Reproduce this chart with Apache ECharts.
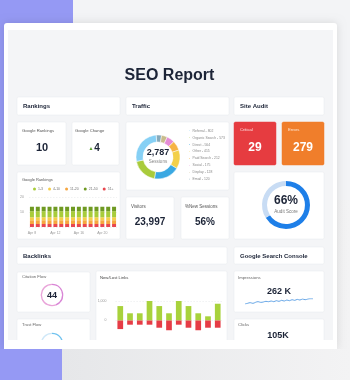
<!DOCTYPE html>
<html>
<head>
<meta charset="utf-8">
<script src="https://cdn.jsdelivr.net/npm/echarts@6/dist/echarts.min.js"></script>
<style>
  html, body { margin: 0; padding: 0; background: #f1f2f4; }
  #chart { width: 350px; height: 380px; }
</style>
</head>
<body>
<div id="chart"></div>
<script>
  // Google Rankings stacked bars (per day)
  const rankDays = ['Apr 8', 'Apr 9', 'Apr 10', 'Apr 11', 'Apr 12', 'Apr 13', 'Apr 14', 'Apr 15',
    'Apr 16', 'Apr 17', 'Apr 18', 'Apr 19', 'Apr 20', 'Apr 21', 'Apr 22']
  const rank51 = [2, 2, 2, 2, 2, 2, 2, 2, 2, 2, 2, 2, 2, 2, 2]
  const rank11to20 = [2.5, 2.5, 2.5, 2.5, 2.5, 2.5, 2.5, 2.5, 2.5, 2.5, 2.5, 2.5, 2.5, 2.5, 2.5]
  const rank4to10 = [2, 2, 2, 2, 2, 2, 2, 2, 2, 2, 2, 2, 2, 2, 2]
  const rank1to3 = [4, 4, 4, 4, 4, 4, 4, 4, 4, 4, 4, 4, 4, 4, 4]
  const rank21to50 = [3, 3, 3, 3, 3, 3, 3, 3, 3, 3, 3, 3, 3, 3, 3]

  // Traffic sources
  const trafficNames = ['Referral', 'Organic Search', 'Direct', 'Other', 'Paid Search', 'Social', 'Display', 'Email']
  const trafficValues = [802, 573, 564, 415, 212, 175, 128, 120]
  const trafficColors = ['#86d0f5', '#a9cb3c', '#3aa8e2', '#f3d04a', '#f6b445', '#e58cd6', '#c9bc8c', '#86aabb']

  // New / lost links
  const linkMonths = ['1', '2', '3', '4', '5', '6', '7', '8', '9', '10', '11']
  const linksNew = [740, 370, 370, 1000, 740, 370, 1000, 740, 370, 215, 860]
  const linksLost = [-440, -215, -215, -215, -370, -500, -215, -370, -500, -370, -370]

  // Impressions sparkline
  const impressions = [8, 10, 12, 10, 13, 15, 13, 14, 16, 15, 17, 15, 18, 16, 19, 17, 20, 18, 21, 19, 22, 20, 23, 21, 23, 24, 24]

  const auditScore = 66
  const citationFlow = 44
  const trustFlow = 40

  const FONT = "'Liberation Sans', Arial, sans-serif"
  const DARK = '#1c2437'

  function card(x, y, w, h, fill) {
    return {
      type: 'rect', z: 0,
      shape: { x: x, y: y, width: w, height: h, r: 1.5 },
      style: { fill: fill || '#fff', stroke: fill ? fill : '#e6e8ec', lineWidth: 0.5 }
    }
  }
  function txt(x, y, s, size, opts) {
    opts = opts || {}
    return {
      type: 'text', z: 1,
      x: x, y: y,
      style: {
        text: s,
        font: (opts.bold ? 'bold ' : '') + size + 'px ' + FONT,
        fill: opts.color || DARK,
        textAlign: opts.align || 'left',
        verticalAlign: 'middle'
      }
    }
  }

  const chart = echarts.init(document.getElementById('chart'))

  const graphics = [
    // page background
    { type: 'rect', z: -5, shape: { x: 73, y: 0, width: 277, height: 380 }, style: { fill: '#f3f4f6' } },
    { type: 'rect', z: -5, shape: { x: 0, y: 0, width: 73, height: 200 }, style: { fill: '#9599f4' } },
    { type: 'rect', z: -5, shape: { x: 0, y: 200, width: 62, height: 180 }, style: { fill: '#9599f4' } },
    { type: 'rect', z: -5, shape: { x: 62, y: 200, width: 288, height: 180 },
      style: { fill: new echarts.graphic.LinearGradient(0, 0, 1, 0, [{ offset: 0, color: '#e6e7e9' }, { offset: 1, color: '#f3f3f4' }]) } },
    // main card
    { type: 'rect', z: -4, shape: { x: 4, y: 23, width: 333, height: 326, r: 3 },
      style: { fill: '#ffffff', shadowBlur: 8, shadowColor: 'rgba(0,0,0,0.12)' } },
    { type: 'rect', z: -3, shape: { x: 8, y: 30, width: 325, height: 310 }, style: { fill: '#f4f5f7' } },

    txt(169.5, 76, 'SEO Report', 16, { bold: true, align: 'center' }),

    // section headers
    card(17, 97, 103, 18), card(126, 97, 103, 18), card(234, 97, 90, 18),
    txt(23, 106, 'Rankings', 6, { bold: true }),
    txt(132, 106, 'Traffic', 6, { bold: true }),
    txt(240, 106, 'Site Audit', 6, { bold: true }),

    // rankings
    card(17, 122, 49, 43), card(72, 122, 47, 43), card(17, 172, 103, 67),
    txt(22, 131, 'Google Rankings', 4.2, { color: '#555' }),
    txt(75, 131, 'Google Change', 4.2, { color: '#555' }),
    txt(42, 148, '10', 11, { bold: true, align: 'center' }),
    txt(91, 149, '▲', 5, { color: '#5aa02c', align: 'center' }),
    txt(97, 148, '4', 10, { bold: true, align: 'center' }),
    txt(22, 180, 'Google Rankings', 4, { color: '#555' }),

    // traffic
    card(126, 122, 103, 68), card(126, 197, 48, 42), card(181, 197, 48, 42),
    txt(158, 153, '2,787', 9, { bold: true, align: 'center' }),
    txt(158, 162, 'Sessions', 4.5, { color: '#888', align: 'center' }),
    txt(131, 207, 'Visitors', 4.5, { color: '#555' }),
    txt(185, 207, '%New Sessions', 4.5, { color: '#555' }),
    txt(150, 222, '23,997', 10, { bold: true, align: 'center' }),
    txt(205, 222, '56%', 10, { bold: true, align: 'center' }),

    // site audit
    card(234, 122, 42, 43, '#e63c40'), card(282, 122, 42, 43, '#f07e2b'), card(234, 172, 90, 67),
    txt(240, 130, 'Critical', 4.2, { color: '#fde3e3' }),
    txt(288, 130, 'Errors', 4.2, { color: '#fde9d9' }),
    txt(255, 148, '29', 12, { bold: true, color: '#fff', align: 'center' }),
    txt(303, 148, '279', 12, { bold: true, color: '#fff', align: 'center' }),
    txt(286, 201, '66%', 12, { bold: true, align: 'center' }),
    txt(286, 212, 'Audit Score', 4.5, { color: '#777', align: 'center' }),

    // backlinks
    card(17, 247, 210, 17), card(234, 247, 90, 17),
    txt(23, 256, 'Backlinks', 6, { bold: true }),
    txt(240, 256, 'Google Search Console', 6, { bold: true }),
    card(17, 272, 73, 40), card(17, 319, 73, 30), card(96, 271, 131, 80),
    txt(22, 277, 'Citation Flow', 4.2, { color: '#666' }),
    txt(22, 325, 'Trust Flow', 4.2, { color: '#666' }),
    txt(52, 296, '44', 9, { bold: true, align: 'center' }),
    txt(100, 278, 'New/Lost Links', 4.2, { color: '#444' }),

    // search console
    card(234, 271, 90, 41), card(234, 319, 90, 30),
    txt(238, 278, 'Impressions', 4.2, { color: '#666' }),
    txt(238, 325, 'Clicks', 4.2, { color: '#666' }),
    txt(279, 292, '262 K', 9, { bold: true, align: 'center' }),
    txt(278, 336, '105K', 9, { bold: true, align: 'center' }),

    // clipping of the scrolled content
    { type: 'rect', z: 50, shape: { x: 4, y: 340, width: 333, height: 9 }, style: { fill: '#ffffff' } },
    { type: 'rect', z: 50, shape: { x: 0, y: 349, width: 62, height: 31 }, style: { fill: '#9599f4' } },
    { type: 'rect', z: 50, shape: { x: 62, y: 349, width: 288, height: 31 },
      style: { fill: new echarts.graphic.LinearGradient(0, 0, 1, 0, [{ offset: 0, color: '#e6e7e9' }, { offset: 1, color: '#f3f3f4' }]) } }
  ]

  const splitDash = { show: true, lineStyle: { color: '#e2e4e7', type: [1.5, 1.5], width: 0.5 } }
  const tiny = { fontSize: 3.5, color: '#999', fontFamily: FONT }

  function rankSeries(name, data, color) {
    return { name: name, type: 'bar', stack: 'rank', xAxisIndex: 0, yAxisIndex: 0, barWidth: 4, data: data, itemStyle: { color: color } }
  }

  const option = {
    animation: false,
    textStyle: { fontFamily: FONT },
    graphic: graphics,
    legend: [
      {
        data: ['1-3', '4-10', '11-20', '21-50', '51+'],
        left: 33, top: 187, icon: 'circle', itemWidth: 3, itemHeight: 3, itemGap: 5,
        textStyle: { fontSize: 3.5, color: '#777', padding: [0, 0, 0, -3] }, padding: 0
      },
      {
        data: trafficNames, orient: 'vertical',
        left: 187, top: 128.5, icon: 'roundRect', itemWidth: 2.6, itemHeight: 2.6, itemGap: 2.3,
        textStyle: { fontSize: 3.4, lineHeight: 4, color: '#888', padding: [0, 0, 0, -3] }, padding: 0,
        formatter: function (n) { return n + ' - ' + trafficValues[trafficNames.indexOf(n)] }
      }
    ],
    grid: [
      { left: 29, right: 233, top: 197, bottom: 153 },
      { left: 115.4, right: 127.4, top: 301, bottom: 40 },
      { left: 245, right: 37, top: 298.7, bottom: 76 }
    ],
    xAxis: [
      { gridIndex: 0, type: 'category', data: rankDays, axisLine: { show: false }, axisTick: { show: false },
        axisLabel: Object.assign({ interval: 3, margin: 4 }, tiny) },
      { gridIndex: 1, type: 'category', data: linkMonths, axisLine: { show: false }, axisTick: { show: false }, axisLabel: { show: false } },
      { gridIndex: 2, type: 'category', data: impressions.map(function (v, i) { return i }), show: false, boundaryGap: false }
    ],
    yAxis: [
      { gridIndex: 0, type: 'value', min: 0, max: 20, interval: 10, splitLine: splitDash,
        axisLabel: Object.assign({ margin: 5, showMinLabel: false }, tiny) },
      { gridIndex: 1, type: 'value', min: -1000, max: 1000, interval: 1000, splitLine: splitDash,
        axisLabel: Object.assign({ margin: 9, showMinLabel: false }, tiny) },
      { gridIndex: 2, type: 'value', min: 8, max: 24, show: false }
    ],
    series: [
      rankSeries('51+', rank51, '#e8474f'),
      rankSeries('11-20', rank11to20, '#f6a640'),
      rankSeries('4-10', rank4to10, '#f5cf4a'),
      rankSeries('1-3', rank1to3, '#a8cc3a'),
      rankSeries('21-50', rank21to50, '#6f9a22'),
      {
        type: 'pie', radius: [15, 22], center: [158, 157], startAngle: 95, label: { show: false },
        itemStyle: { borderColor: '#fff', borderWidth: 0.5 },
        data: trafficNames.map(function (n, i) {
          return { name: n, value: trafficValues[i], itemStyle: { color: trafficColors[i] } }
        }).reverse()
      },
      {
        type: 'pie', radius: [19, 24], center: [286, 205], startAngle: 90, label: { show: false }, silent: true,
        data: [
          { value: auditScore, itemStyle: { color: '#1e7fe8' } },
          { value: 100 - auditScore, itemStyle: { color: '#c8dcf4' } }
        ]
      },
      {
        type: 'pie', radius: [10, 11.3], center: [52, 295], startAngle: 90, label: { show: false }, silent: true,
        data: [
          { value: citationFlow, itemStyle: { color: '#d986d6' } },
          { value: 100 - citationFlow, itemStyle: { color: '#e9a4d9' } }
        ]
      },
      {
        type: 'pie', radius: [10, 11.3], center: [52, 344], startAngle: 90, label: { show: false }, silent: true,
        data: [
          { value: trustFlow, itemStyle: { color: '#6fc2ef' } },
          { value: 100 - trustFlow, itemStyle: { color: '#cfe8f8' } }
        ]
      },
      { type: 'bar', stack: 'links', xAxisIndex: 1, yAxisIndex: 1, barWidth: 5.7, data: linksNew, itemStyle: { color: '#a8d23c' } },
      { type: 'bar', stack: 'links', xAxisIndex: 1, yAxisIndex: 1, barWidth: 5.7, data: linksLost, itemStyle: { color: '#e63c46' } },
      {
        type: 'line', xAxisIndex: 2, yAxisIndex: 2, data: impressions, showSymbol: false, smooth: true,
        lineStyle: { color: '#3d8ee0', width: 0.8 }
      }
    ]
  }
  chart.setOption(option)
</script>
</body>
</html>
